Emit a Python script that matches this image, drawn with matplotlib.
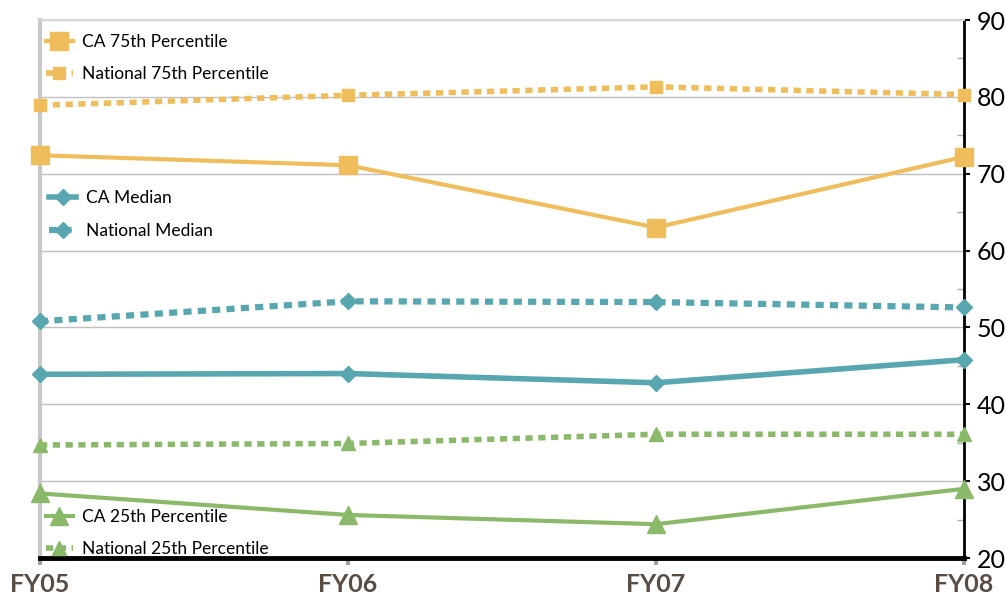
import numpy as np
import matplotlib.pyplot as plt
from matplotlib.ticker import MultipleLocator

# Datos
years = ['FY05', 'FY06', 'FY07', 'FY08']
ca_75 = [72.4, 71.1, 63.0, 72.2]
nat_75 = [78.9, 80.2, 81.3, 80.3]
ca_med = [43.9, 44.0, 42.8, 45.8]
nat_med = [50.8, 53.4, 53.3, 52.6]
nat_25 = [34.7, 34.9, 36.1, 36.1]
ca_25 = [28.4, 25.6, 24.4, 29.0]

gold = '#efbd5b'
teal = '#58a7b0'
green = '#8bb96a'

plt.rcParams['font.family'] = ['Lato', 'DejaVu Sans']

fig = plt.figure(figsize=(10.06, 6.03), dpi=100)
ax = fig.add_axes([40 / 1006, 45 / 603, 924 / 1006, 538 / 603])
x = np.arange(len(years))
dots = (0, (1.3, 1.0))

l1, = ax.plot(x, ca_75, color=gold, lw=3, marker='s', ms=13.5, label='CA 75th Percentile', clip_on=False, zorder=4)
l2, = ax.plot(x, nat_75, color=gold, lw=4, ls=dots, marker='s', ms=9, label='National 75th Percentile', clip_on=False, zorder=4)
l3, = ax.plot(x, ca_med, color=teal, lw=4, marker='D', ms=8.5, label='CA Median', clip_on=False, zorder=4)
l4, = ax.plot(x, nat_med, color=teal, lw=4.5, ls=dots, marker='D', ms=8, label='National Median', clip_on=False, zorder=4)
l5, = ax.plot(x, ca_25, color=green, lw=3, marker='^', ms=13.5, label='CA 25th Percentile', clip_on=False, zorder=4)
l6, = ax.plot(x, nat_25, color=green, lw=4, ls=dots, marker='^', ms=9.5, label='National 25th Percentile', clip_on=False, zorder=4)

ax.set_xlim(0, 3)
ax.set_ylim(20, 90)
ax.set_xticks(x)
ax.set_xticklabels(years, fontsize=18, fontweight='bold', color='#584c43')
ax.yaxis.tick_right()
ax.yaxis.set_major_locator(MultipleLocator(10))
ax.yaxis.set_minor_locator(MultipleLocator(5))
ax.tick_params(axis='y', which='major', labelsize=18, length=4, width=1.5, color='black', pad=5)
ax.tick_params(axis='y', which='minor', direction='in', length=5, width=1, color='#aaaaaa')
ax.tick_params(axis='x', length=5, width=3, color='#a0a0a0', pad=6)
ax.grid(axis='y', color='#c0c0c0', lw=1)
ax.set_axisbelow(True)

ax.spines['left'].set_color('#c8c8c8')
ax.spines['left'].set_linewidth(3)
ax.spines['top'].set_color('#d8d8d8')
ax.spines['top'].set_linewidth(1.5)
ax.spines['right'].set_color('black')
ax.spines['right'].set_linewidth(2)
ax.spines['bottom'].set_color('black')
ax.spines['bottom'].set_linewidth(3.5)

# Leyendas separadas
kw = dict(frameon=False, fontsize=12.5, handlelength=1.55, numpoints=1, labelspacing=0.9,
          borderaxespad=0, borderpad=0, handletextpad=0.55)
leg1 = ax.legend(handles=[l1, l2], loc='upper left', bbox_to_anchor=(0.0065, 0.974), **kw)
ax.add_artist(leg1)
leg2 = ax.legend(handles=[l3, l4], loc='upper left', bbox_to_anchor=(0.01, 0.684),
                 **{**kw, 'labelspacing': 1.0})
ax.add_artist(leg2)
ax.legend(handles=[l5, l6], loc='upper left', bbox_to_anchor=(0.0065, 0.091), **kw)

fig.savefig('out.png', dpi=100)
